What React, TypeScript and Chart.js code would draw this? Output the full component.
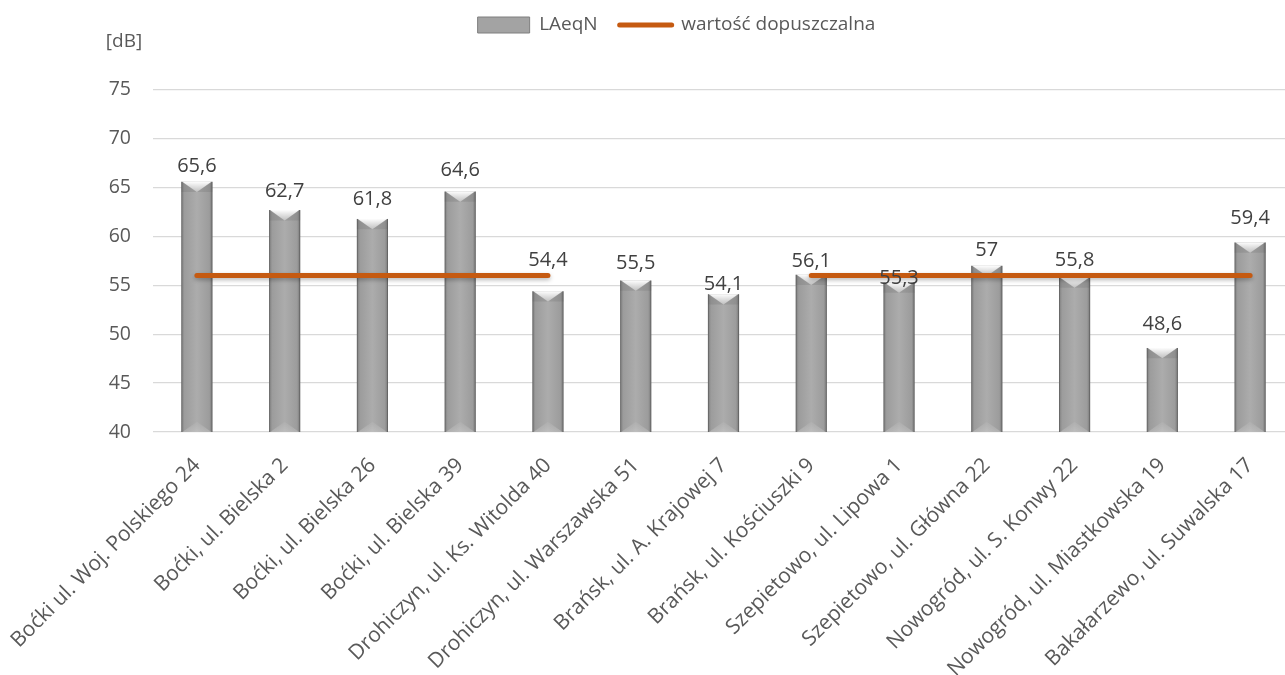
import React, { useEffect, useRef } from 'react';
import { Chart, registerables } from 'chart.js';

Chart.register(...registerables);

const categories = [
  'Boćki ul. Woj. Polskiego 24',
  'Boćki, ul. Bielska 2',
  'Boćki, ul. Bielska 26',
  'Boćki, ul. Bielska 39',
  'Drohiczyn, ul. Ks. Witolda 40',
  'Drohiczyn, ul. Warszawska 51',
  'Brańsk, ul. A. Krajowej 7',
  'Brańsk, ul. Kościuszki 9',
  'Szepietowo, ul. Lipowa 1',
  'Szepietowo, ul. Główna 22',
  'Nowogród, ul. S. Konwy 22',
  'Nowogród, ul. Miastkowska 19',
  'Bakałarzewo, ul. Suwalska 17',
];
const laeqN = [65.6, 62.7, 61.8, 64.6, 54.4, 55.5, 54.1, 56.1, 55.3, 57, 55.8, 48.6, 59.4];
const limitValues: (number | null)[] = [56, 56, 56, 56, 56, null, null, 56, 56, 56, 56, 56, 56];
const seriesNames = ['LAeqN', 'wartość dopuszczalna'];
const unitLabel = '[dB]';
const yMin = 40;
const yMax = 75;
const yStep = 5;

// style: gap (px) between each value label baseline and its bar top, as placed in the original
const labelGapPx = [10, 13, 14, 16, 25, 11, 4, 8, -2, 10, 12, 18, 18];

const FONT = "'Open Sans', 'Noto Sans', sans-serif";
const TEXT = '#595959';
const LABEL = '#404040';
const ORANGE = '#c55a11';
const BAR_PCT = 0.355;

const barFill = (c: any) => {
  const chart = c.chart;
  const xs = chart.scales && chart.scales.x;
  if (!chart.chartArea || !xs || c.dataIndex == null) return '#a6a6a6';
  const cx = xs.getPixelForValue(c.dataIndex);
  const half = (xs.width / categories.length) * BAR_PCT / 2;
  const g = chart.ctx.createLinearGradient(cx - half, 0, cx + half, 0);
  g.addColorStop(0, '#7c7c7c');
  g.addColorStop(0.1, '#9c9c9c');
  g.addColorStop(0.5, '#acacac');
  g.addColorStop(0.9, '#9c9c9c');
  g.addColorStop(1, '#767676');
  return g;
};

const bevelPlugin = {
  id: 'bevel',
  beforeDatasetDraw(chart: any, args: any) {
    if (args.index === 1) {
      const ctx = chart.ctx;
      ctx.save();
      ctx.shadowColor = 'rgba(0,0,0,0.28)';
      ctx.shadowBlur = 4;
      ctx.shadowOffsetY = 2;
    }
  },
  afterDatasetDraw(chart: any, args: any) {
    const ctx = chart.ctx;
    if (args.index === 1) {
      ctx.restore();
      return;
    }
    if (args.index !== 0) return;
    const meta = chart.getDatasetMeta(0);
    const area = chart.chartArea;
    meta.data.forEach((el: any) => {
      const w = el.width;
      const x0 = el.x - w / 2;
      const x1 = el.x + w / 2;
      const top = el.y;
      const base = Math.min(el.base, area.bottom);
      const d = w * 0.33;
      ctx.save();
      ctx.beginPath();
      ctx.rect(area.left, area.top - 2, area.right - area.left, area.bottom - area.top + 2);
      ctx.clip();
      // side facets of top bevel
      ctx.fillStyle = 'rgba(90,90,90,0.18)';
      ctx.beginPath();
      ctx.moveTo(x0, top);
      ctx.lineTo(el.x, top + d);
      ctx.lineTo(x0, top + d);
      ctx.closePath();
      ctx.fill();
      ctx.beginPath();
      ctx.moveTo(x1, top);
      ctx.lineTo(el.x, top + d);
      ctx.lineTo(x1, top + d);
      ctx.closePath();
      ctx.fill();
      // light top chevron
      const g = ctx.createLinearGradient(0, top, 0, top + d);
      g.addColorStop(0, 'rgba(255,255,255,0.98)');
      g.addColorStop(1, 'rgba(255,255,255,0.25)');
      ctx.fillStyle = g;
      ctx.beginPath();
      ctx.moveTo(x0 + 1, top);
      ctx.lineTo(x1 - 1, top);
      ctx.lineTo(el.x, top + d);
      ctx.closePath();
      ctx.fill();
      // bottom bevel
      const gb = ctx.createLinearGradient(0, base - d, 0, base);
      gb.addColorStop(0, 'rgba(255,255,255,0.04)');
      gb.addColorStop(1, 'rgba(255,255,255,0.22)');
      ctx.fillStyle = gb;
      ctx.beginPath();
      ctx.moveTo(x0 + 1, base);
      ctx.lineTo(x1 - 1, base);
      ctx.lineTo(el.x, base - d);
      ctx.closePath();
      ctx.fill();
      // edges
      ctx.strokeStyle = 'rgba(60,60,60,0.35)';
      ctx.lineWidth = 1;
      ctx.beginPath();
      ctx.moveTo(x0 + 0.5, top);
      ctx.lineTo(x0 + 0.5, base);
      ctx.moveTo(x1 - 0.5, top);
      ctx.lineTo(x1 - 0.5, base);
      ctx.stroke();
      ctx.restore();
    });
  },
  afterDatasetsDraw(chart: any) {
    const ctx = chart.ctx;
    const meta = chart.getDatasetMeta(0);
    ctx.save();
    ctx.font = `20px ${FONT}`;
    ctx.fillStyle = LABEL;
    ctx.textAlign = 'center';
    ctx.textBaseline = 'alphabetic';
    meta.data.forEach((el: any, i: number) => {
      const txt = String(laeqN[i]).replace('.', ',');
      ctx.fillText(txt, el.x, el.y - (labelGapPx[i] ?? 10));
    });
    // unit label above the value axis
    const ys = chart.scales.y;
    ctx.fillStyle = TEXT;
    ctx.font = `19px ${FONT}`;
    ctx.textBaseline = 'middle';
    ctx.fillText(unitLabel, ys.right - 29, ys.top - 48);
    ctx.restore();
  },
};

export default function App() {
  const ref = useRef<HTMLCanvasElement | null>(null);
  useEffect(() => {
    if (!ref.current) return;
    const chart = new Chart(ref.current, {
      type: 'bar',
      data: {
        labels: categories,
        datasets: [
          {
            type: 'bar',
            label: seriesNames[0],
            data: laeqN,
            backgroundColor: barFill,
            borderWidth: 0,
            barPercentage: BAR_PCT,
            categoryPercentage: 1,
            order: 1,
          } as any,
          {
            type: 'line',
            label: seriesNames[1],
            data: limitValues,
            borderColor: ORANGE,
            backgroundColor: ORANGE,
            borderWidth: 5,
            borderCapStyle: 'round',
            pointRadius: 0,
            pointHoverRadius: 0,
            spanGaps: false,
            tension: 0,
            order: 0,
          } as any,
        ],
      },
      options: {
        animation: false,
        responsive: true,
        maintainAspectRatio: false,
        layout: { padding: { left: 59, top: -6.5, right: 0, bottom: 0 } },
        plugins: {
          legend: {
            position: 'top',
            labels: {
              usePointStyle: true,
              pointStyleWidth: 52,
              boxHeight: 16,
              padding: 22,
              color: TEXT,
              font: { family: FONT, size: 19 },
              generateLabels: () => [
                {
                  text: seriesNames[0],
                  fillStyle: '#a3a3a3',
                  strokeStyle: '#7f7f7f',
                  lineWidth: 1,
                  pointStyle: 'rect',
                  datasetIndex: 0,
                  hidden: false,
                  fontColor: TEXT,
                },
                {
                  text: seriesNames[1],
                  fillStyle: ORANGE,
                  strokeStyle: ORANGE,
                  lineWidth: 5,
                  lineCap: 'round',
                  pointStyle: 'line',
                  datasetIndex: 1,
                  hidden: false,
                  fontColor: TEXT,
                },
              ],
            },
          },
          title: {
            display: true,
            text: '',
            weight: 500,
            font: { family: FONT, size: 17 },
            padding: { top: 0, bottom: 25 },
          } as any,
          tooltip: { enabled: false },
        },
        scales: {
          x: {
            grid: { display: false },
            border: { display: false },
            ticks: {
              minRotation: 45,
              maxRotation: 45,
              autoSkip: false,
              padding: 13,
              color: TEXT,
              font: { family: FONT, size: 21 },
            },
            afterFit: (s: any) => {
              s.height = 243;
              s.paddingLeft = 0;
              s.paddingRight = 0;
            },
          },
          y: {
            min: yMin,
            max: yMax,
            border: { display: false },
            grid: { color: '#d9d9d9', lineWidth: 1.3, drawTicks: false },
            ticks: {
              stepSize: yStep,
              padding: 22,
              color: TEXT,
              font: { family: FONT, size: 19.5 },
            },
            afterFit: (s: any) => {
              s.width = 94;
              s.paddingTop = 0;
              s.paddingBottom = 0;
            },
          },
        },
      },
      plugins: [bevelPlugin],
    });
    return () => chart.destroy();
  }, []);

  return (
    <div
      style={{
        position: 'fixed',
        left: 0,
        top: 0,
        width: 1285,
        height: 675,
        overflow: 'hidden',
        background: '#fff',
      }}
    >
      <div style={{ position: 'relative', width: 1294, height: 675 }}>
        <canvas ref={ref} />
      </div>
    </div>
  );
}
